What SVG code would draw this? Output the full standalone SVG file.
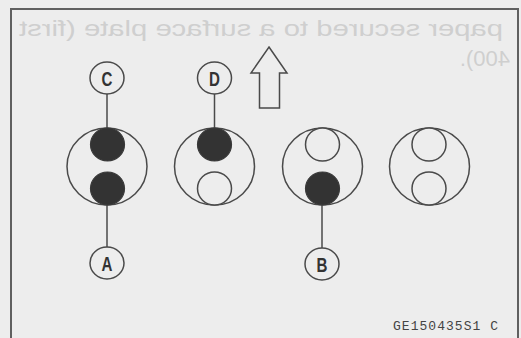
<svg xmlns="http://www.w3.org/2000/svg" width="521" height="338" viewBox="0 0 521 338">
<style>
.ol{fill:none;stroke:#4a4a4a;stroke-width:1.5}
.fd{fill:#333;stroke:#3a3a3a;stroke-width:1.2}
.ho{fill:#ededed;stroke:#4a4a4a;stroke-width:1.5}
.ln{stroke:#4a4a4a;stroke-width:1.5}
.lb{font-family:"Liberation Sans",Arial,sans-serif;font-size:21px;font-weight:bold;fill:#333}
.bt{font-family:"Liberation Sans",Arial,sans-serif;font-size:22px;fill:#cfcfcf}
.code{font-family:"Liberation Mono","DejaVu Sans Mono",monospace;font-size:13px;fill:#444}
</style>
<rect x="0" y="0" width="521" height="338" fill="#ededed"/>
<g id="bleed-through">
<text class="bt" transform="scale(-1,1)" x="-503" y="36" textLength="484" lengthAdjust="spacingAndGlyphs">paper secured to a surface plate (first</text>
<text class="bt" transform="scale(-1,1)" x="-510" y="66">400).</text>
</g>
<rect id="frame" x="11" y="9" width="507" height="345" fill="none" stroke="#606060" stroke-width="2"/>
<g id="connectors">
<line class="ln" x1="107" y1="94" x2="107" y2="128"/>
<line class="ln" x1="214.5" y1="94" x2="214.5" y2="128"/>
<line class="ln" x1="107" y1="205" x2="107" y2="247"/>
<line class="ln" x1="322" y1="205" x2="322" y2="248"/>
</g>
<g id="ring1">
<ellipse class="ol" cx="107" cy="166.5" rx="40" ry="38.5"/>
<ellipse class="fd" cx="107.5" cy="144.5" rx="17" ry="16.5"/>
<ellipse class="fd" cx="107.5" cy="188.5" rx="17" ry="16.5"/>
</g>
<g id="ring2">
<ellipse class="ol" cx="214.5" cy="166.5" rx="40" ry="38.5"/>
<ellipse class="fd" cx="214.5" cy="144.5" rx="17" ry="16.5"/>
<ellipse class="ho" cx="214.5" cy="188.5" rx="17" ry="16.5"/>
</g>
<g id="ring3">
<ellipse class="ol" cx="322.5" cy="166.5" rx="40" ry="38.5"/>
<ellipse class="ho" cx="322.5" cy="144.5" rx="17" ry="16.5"/>
<ellipse class="fd" cx="322.5" cy="188.5" rx="17" ry="16.5"/>
</g>
<g id="ring4">
<ellipse class="ol" cx="429.5" cy="166.5" rx="40" ry="38.5"/>
<ellipse class="ho" cx="429" cy="144.5" rx="17" ry="16.5"/>
<ellipse class="ho" cx="429" cy="188.5" rx="17" ry="16.5"/>
</g>
<g id="label-C">
<ellipse class="ol" cx="107" cy="78" rx="17" ry="16"/>
<text class="lb" text-anchor="middle" transform="translate(107,85.5) scale(0.72,1)">C</text>
</g>
<g id="label-D">
<ellipse class="ol" cx="214.5" cy="78" rx="17" ry="16"/>
<text class="lb" text-anchor="middle" transform="translate(214.5,85.5) scale(0.72,1)">D</text>
</g>
<g id="label-A">
<ellipse class="ol" cx="107" cy="263" rx="17" ry="16"/>
<text class="lb" text-anchor="middle" transform="translate(107,270.5) scale(0.72,1)">A</text>
</g>
<g id="label-B">
<ellipse class="ol" cx="322" cy="264" rx="17" ry="16"/>
<text class="lb" text-anchor="middle" transform="translate(322,271.5) scale(0.72,1)">B</text>
</g>
<g id="arrow">
<polygon class="ol" points="269,47 287,73 279.5,73 279.5,108 259.5,108 259.5,73 251,73"/>
</g>
<text id="code" class="code" x="393" y="330" textLength="105" lengthAdjust="spacing">GE150435S1 C</text>
</svg>
